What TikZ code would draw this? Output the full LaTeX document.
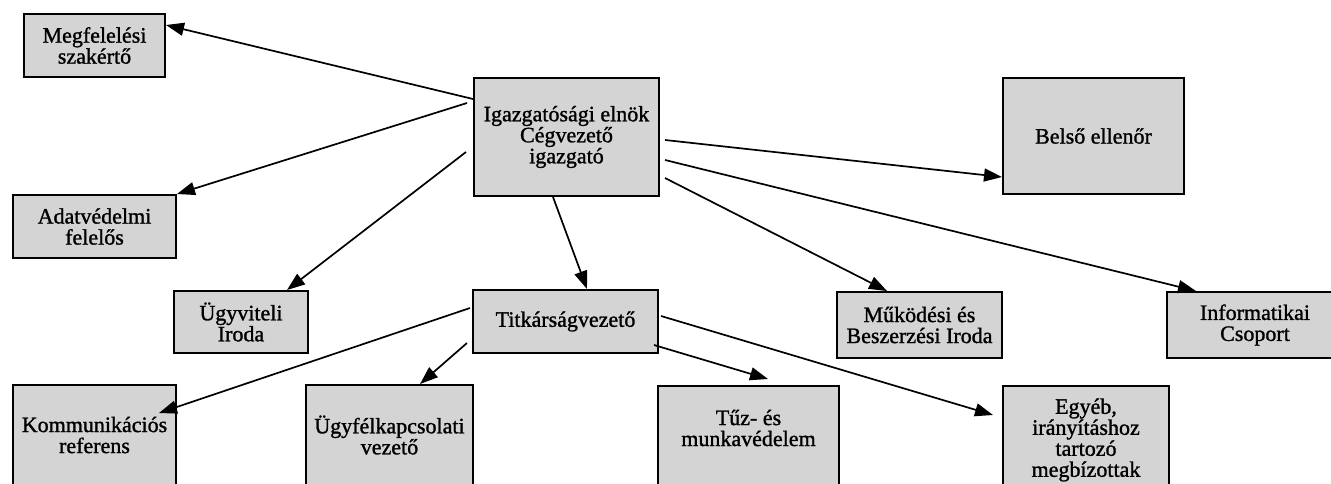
\documentclass[tikz,border=0pt]{standalone}
\usepackage{fontspec}
\setmainfont[FakeBold=1.2,AutoFakeBold=1.2]{Liberation Serif}
\usetikzlibrary{arrows.meta}
\begin{document}
\begin{tikzpicture}[x=1pt,y=-1pt,
  box/.style={draw=black, line width=2pt, fill=black!17, anchor=north west, inner sep=0pt, align=center, font=\fontsize{22}{21}\selectfont\bfseries},
  lbl/.style={inner sep=0pt, align=center, font=\fontsize{22}{21}\selectfont\bfseries},
  conn/.style={line width=1.7pt, -{Triangle[length=18pt,width=13pt]}}]
\useasboundingbox (0,0) rectangle (1331,483);
% top level
\node[box, minimum width=141pt, minimum height=63pt] (meg) at (23,13) {Megfelelési\\szakértő};
\node[box, minimum width=185pt, minimum height=118pt] (main) at (473,77) {Igazgatósági elnök\\Cégvezető\\igazgató};
\node[box, minimum width=181pt, minimum height=116pt] (belso) at (1002,77) {Belső ellenőr};
\node[box, minimum width=163pt, minimum height=63pt] (adat) at (12,194) {Adatvédelmi\\felelős};
% middle row
\node[box, minimum width=134pt, minimum height=62pt] (ugyv) at (173,290) {Ügyviteli\\Iroda};
\node[box, minimum width=185pt, minimum height=63pt] (titk) at (472,289) {Titkárságvezető};
\node[box, minimum width=165pt, minimum height=66pt] (muk) at (836,291) {Működési és\\Beszerzési Iroda};
\node[box, minimum width=180pt, minimum height=66pt] (info) at (1166,291) {};
\node[lbl] (infot) at ([xshift=89pt]info.west) {Informatikai\\Csoport};
% bottom row
\node[box, minimum width=163pt, minimum height=120pt] (komm) at (12,384) {};
\node[lbl] (kommt) at ([yshift=-51pt]komm.north) {Kommunikációs\\referens};
\node[box, minimum width=167pt, minimum height=120pt] (ugyf) at (305,384) {};
\node[lbl] (ugyft) at ([yshift=-51pt]ugyf.north) {Ügyfélkapcsolati\\vezető};
\node[box, minimum width=181pt, minimum height=120pt] (tuz) at (657,385) {};
\node[lbl] (tuzt) at ([yshift=-43pt]tuz.north) {Tűz- és\\munkavédelem};
\node[box, minimum width=166pt, minimum height=120pt] (egyeb) at (1002,385) {};
\node[lbl] (egyebt) at ([yshift=-55pt]egyeb.north) {Egyéb,\\irányításhoz\\tartozó\\megbízottak};
% connectors from main
\draw[conn] ([yshift=-22pt]main.north west) -- ([yshift=-12pt]meg.north east);
\draw[conn] ([xshift=-6pt,yshift=-26pt]main.north west) -- (adat.north east);
\draw[conn] ([xshift=-7pt,yshift=-75pt]main.north west) -- ([xshift=-22pt]ugyv.north east);
\draw[conn] ([xshift=80pt]main.south west) -- ([xshift=115pt]titk.north west);
\draw[conn] ([xshift=5pt,yshift=-63pt]main.north east) -- ([yshift=18pt]belso.south west);
\draw[conn] ([xshift=5pt,yshift=-83pt]main.north east) -- ([xshift=30pt]info.north west);
\draw[conn] ([xshift=5pt,yshift=-101pt]main.north east) -- ([xshift=51pt]muk.north west);
% connectors from titk
\draw[conn] ([xshift=-2pt,yshift=-19pt]titk.north west) -- ([xshift=-18pt,yshift=-29pt]komm.north east);
\draw[conn] ([xshift=-5pt,yshift=-54pt]titk.north west) -- ([xshift=115pt]ugyf.north west);
\draw[conn] ([xshift=-5pt,yshift=-56pt]titk.north east) -- ([xshift=111pt,yshift=6pt]tuz.north west);
\draw[conn] ([xshift=2pt,yshift=-27pt]titk.north east) -- ([xshift=-9pt,yshift=-30pt]egyeb.north west);
\end{tikzpicture}
\end{document}
